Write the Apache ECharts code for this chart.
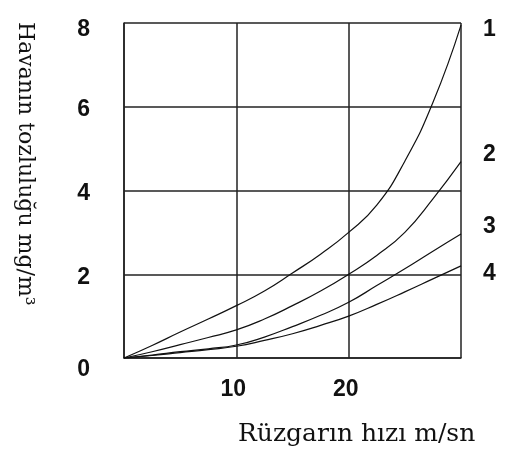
<!DOCTYPE html>
<html>
<head>
<meta charset="utf-8">
<script src="https://cdn.jsdelivr.net/npm/echarts@6/dist/echarts.min.js"></script>
<style>
  html, body { margin: 0; padding: 0; background: #fff; }
  #main { width: 505px; height: 450px; }
</style>
</head>
<body>
<div id="main"></div>
<script>
// rüzgar hızı (m/sn)
var speeds = [0, 2.5, 5, 7.5, 10, 12.5, 15, 17.5, 20, 22.5, 25, 27.5, 30];
// eğriler 1..4 (mg/m3)
var curve1 = [0, 0.3, 0.62, 0.93, 1.25, 1.6, 2.03, 2.48, 3.0, 3.65, 4.7, 6.1, 7.95];
var curve2 = [0, 0.15, 0.32, 0.49, 0.67, 0.93, 1.25, 1.6, 2.0, 2.45, 3.0, 3.8, 4.69];
var curve3 = [0, 0.07, 0.15, 0.22, 0.31, 0.5, 0.75, 1.02, 1.33, 1.73, 2.13, 2.55, 2.96];
var curve4 = [0, 0.06, 0.13, 0.2, 0.28, 0.42, 0.58, 0.78, 1.0, 1.28, 1.58, 1.89, 2.2];
var curveNames = ['1', '2', '3', '4'];
var labelOffsets = [[0, 5], [0, -7], [0, -7], [0, 8]];

var myChart = echarts.init(document.getElementById('main'));

function pairs(ys) {
    return speeds.map(function (x, i) { return [x, ys[i]]; });
}

var numFont = { fontFamily: 'Liberation Sans', fontWeight: 'bold', fontSize: 23, color: '#111' };

var series = [curve1, curve2, curve3, curve4].map(function (c, i) {
    return {
        name: curveNames[i],
        type: 'line',
        smooth: 0.5,
        symbol: 'none',
        lineStyle: { color: '#111', width: 1.2 },
        endLabel: Object.assign({
            show: true,
            formatter: curveNames[i],
            distance: 22,
            offset: labelOffsets[i]
        }, numFont),
        data: pairs(c)
    };
});

var option = {
    backgroundColor: '#fff',
    animation: false,
    grid: { left: 124, right: 44, top: 23, bottom: 92 },
    xAxis: {
        type: 'value',
        min: 0,
        max: 30,
        interval: 10,
        name: 'Rüzgarın hızı m/sn',
        nameLocation: 'end',
        nameGap: -223,
        nameTextStyle: {
            fontFamily: 'DejaVu Serif',
            fontSize: 25,
            color: '#111',
            align: 'left',
            verticalAlign: 'top',
            padding: [64, 0, 0, 0]
        },
        axisLine: { show: true, lineStyle: { color: '#222', width: 1.5 } },
        axisTick: { show: false },
        splitLine: { show: true, lineStyle: { color: '#222', width: 1.5 } },
        axisLabel: Object.assign({
            margin: 18,
            padding: [2, 6, 0, 0],
            formatter: function (v) { return (v === 0 || v === 30) ? '' : String(v); }
        }, numFont)
    },
    yAxis: {
        type: 'value',
        min: 0,
        max: 8,
        interval: 2,
        axisLine: { show: true, lineStyle: { color: '#222', width: 1.5 } },
        axisTick: { show: false },
        splitLine: { show: true, lineStyle: { color: '#222', width: 1.5 } },
        axisLabel: Object.assign({
            margin: 34,
            formatter: function (v) {
                if (v === 0) return '{z|0}';
                if (v === 8) return '{t|8}';
                return '{a|' + v + '}';
            },
            rich: {
                a: Object.assign({ padding: [6, 0, 0, 0] }, numFont),
                t: Object.assign({ padding: [14, 0, 0, 0] }, numFont),
                z: Object.assign({ padding: [24, 0, 0, 0] }, numFont)
            }
        }, numFont)
    },
    graphic: [{
        type: 'text',
        left: 14,
        top: 22,
        rotation: -Math.PI / 2,
        style: {
            text: 'Havanın tozluluğu mg/m³',
            fontFamily: 'DejaVu Serif',
            fontSize: 22,
            fill: '#111'
        }
    }],
    series: series
};

myChart.setOption(option);
</script>
</body>
</html>
